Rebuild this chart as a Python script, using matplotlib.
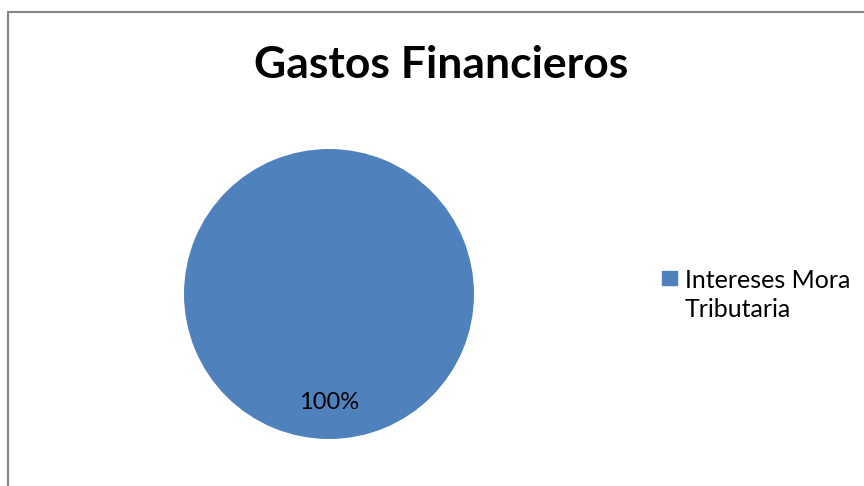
import matplotlib.pyplot as plt
from matplotlib.patches import Rectangle

# Chart data
title = "Gastos Financieros"
categories = ["Intereses Mora\nTributaria"]
values = [100]
colors = ["#4F81BD"]

plt.rcParams['font.family'] = ['Lato', 'DejaVu Sans']

fig = plt.figure(figsize=(8.64, 4.86), dpi=100)
W, H = 864, 486

# outer chart border (cropped at right and bottom in the original)
fig.patches.append(Rectangle((8 / W, -0.1), 1.2, 1 - 12 / H + 0.1,
                             transform=fig.transFigure, fill=False,
                             edgecolor='#868686', linewidth=1.5))

ax = fig.add_axes([184 / W, 47 / H, 290 / W, 290 / H])
wedges, texts, autotexts = ax.pie(values, colors=colors, startangle=90,
                                  autopct='%1.0f%%', pctdistance=0.75,
                                  textprops={'fontsize': 17, 'color': 'black'})
ax.set_xlim(-1, 1)
ax.set_ylim(-1, 1)
ax.set_aspect('equal')

fig.text(441 / W, 1 - 65 / H, title, ha='center', va='center',
         fontsize=32, fontweight='bold')

# legend drawn by hand so the key square sits beside the first line
# (baseline alignment of multi-line text uses the last line)
for i, (cat, col) in enumerate(zip(categories, colors)):
    fig.patches.append(Rectangle((662 / W, 1 - 285 / H), 15 / W, 14 / H,
                                 transform=fig.transFigure, color=col))
    fig.text(685 / W, 1 - 317 / H, cat, ha='left', va='baseline',
             fontsize=18, linespacing=1.3)

fig.savefig("out.png", dpi=100)
